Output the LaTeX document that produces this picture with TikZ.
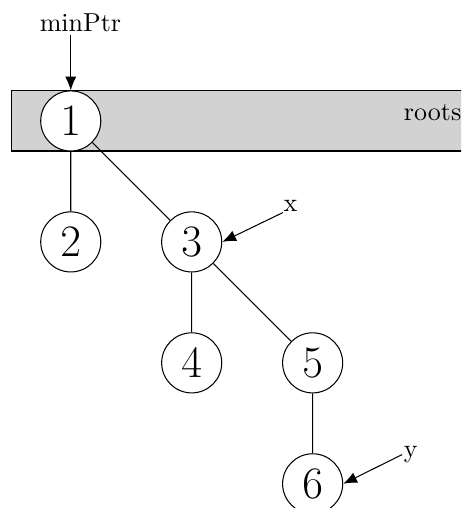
\documentclass[tikz,border=0pt]{standalone}
\usepackage{tikz}
\usetikzlibrary{positioning, arrows.meta}

\begin{document}
\begin{tikzpicture}[node distance = 46.5pt, on grid, >={Latex[length=5.3pt, width=4.3pt]},
		key/.style = {circle, draw, fill=white, minimum size=23.1pt, inner sep=0pt,
			font=\fontsize{17.9}{21}\selectfont},
		rootbar/.style = {draw, fill=gray!35, minimum width=190pt, minimum height=23.1pt,
			inner sep=0pt, anchor=west},
		ptr/.style = {inner sep=0pt}]
			\path[use as bounding box, clip] (-27.2pt,-148.8pt) rectangle (150.1pt,46.5pt);

			% root list behind the heap
			\node[rootbar] (bar) at (-23.1pt,0) {};
			\node[ptr, anchor=base west] (roots) at (127.9pt,0) {roots};

			\node[key] (1) {$1$};
			\node[key, below=of 1] (2) {$2$};
			\node[key, right=of 2] (3) {$3$};
			\node[key, below=of 3] (4) {$4$};
			\node[key, right=of 4] (5) {$5$};
			\node[key, below=of 5] (6) {$6$};

			\node[ptr, anchor=base west] (min) at ([shift={(-12.1pt,34.3pt)}]1) {minPtr};
			\node[ptr, anchor=base west] (x) at ([shift={(35.1pt,11.5pt)}]3) {x};
			\node[ptr, anchor=base west] (y) at ([shift={(34.9pt,10.1pt)}]6) {y};

			\draw (1) -- (2)
			(1) -- (3)
			(3) -- (4)
			(3) -- (5)
			(5) -- (6);

			\draw[->] ([yshift=-1pt]min.south -| 1.north) -- (1.north);
			\draw[->] (x.south west) -- (3.east);
			\draw[->] ([xshift=-0.5pt]y.west) -- (6.east);
		\end{tikzpicture}
\end{document}
